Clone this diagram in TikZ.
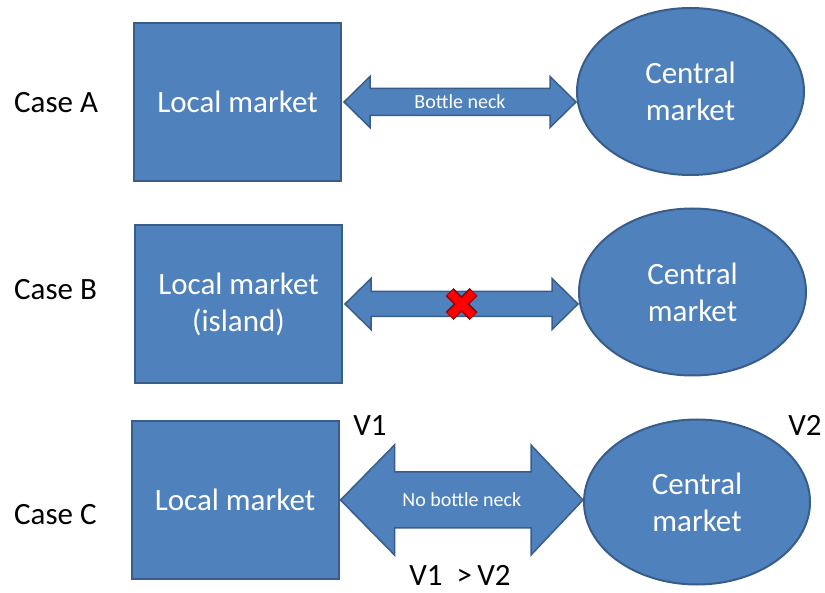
\documentclass[tikz,border=0pt]{standalone}
\usepackage{fontspec}
\setmainfont{Carlito}
\usetikzlibrary{calc,positioning,shapes.geometric}
\definecolor{officeblue}{HTML}{4F81BD}
\definecolor{officeline}{HTML}{385D8A}
\tikzstyle{market}=[rectangle,draw=officeline,fill=officeblue,line width=2pt,text=white,font=\fontsize{31}{37}\selectfont,align=center,minimum width=207pt,minimum height=158pt,inner sep=0pt]
\tikzstyle{central}=[market,ellipse,minimum width=227pt,minimum height=167pt]
\tikzstyle{pipe}=[draw=officeline,fill=officeblue,line width=1.5pt,line join=miter]
\tikzstyle{pipe label}=[text=white,font=\fontsize{20}{24}\selectfont,inner sep=0pt]
\tikzstyle{case}=[anchor=west,font=\fontsize{31}{37}\selectfont,inner sep=0pt]
\tikzstyle{value}=[font=\fontsize{31}{37}\selectfont,inner sep=0pt]

\begin{document}
\begin{tikzpicture}[x=1pt,y=1pt]
  \useasboundingbox (0,0) rectangle (825,592);

  % Case A

  \node[market] (locA) at (237.5,490) {Local market};
  \node[central] (cenA) at (690.5,500.5) {Central\\market};
  \node[case] (caseA) at (14,489) {Case A};

  \coordinate (tailA) at ($(locA.east)+(2,0)$);
  \coordinate (tipA) at (cenA.west |- locA.east);
  \draw[pipe] (tailA) -- ++(26,25.5) -- ++(0,-12) -- ($(tipA)+(-26,13.5)$) -- ++(0,12)
  -- (tipA) -- ++(-26,-25.5) -- ++(0,12) -- ($(tailA)+(26,-13.5)$) -- ++(0,-12) -- cycle;
  \node[pipe label] (neckA) at ($(tailA)!.5!(tipA)$) {Bottle neck};

  % Case B

  \node[market] (locB) at (238.5,288) {Local market\\(island)};
  \node[central] (cenB) at (692.5,300) {Central\\market};
  \node[case] (caseB) at (14,302) {Case B};

  \coordinate (tailB) at ($(locB.east)+(2,0)$);
  \coordinate (tipB) at (cenB.west |- locB.east);
  \draw[pipe] (tailB) -- ++(26,25.5) -- ++(0,-13) -- ($(tipB)+(-26,12.5)$) -- ++(0,13)
  -- (tipB) -- ++(-26,-25.5) -- ++(0,13) -- ($(tailB)+(26,-12.5)$) -- ++(0,-13) -- cycle;

  \coordinate (cut) at ($(tailB)!.5!(tipB)$);
  \draw[line width=11pt,draw=red!55!black]
  ($(cut)+(-12,12)$) -- ($(cut)+(12,-12)$)
  ($(cut)+(-12,-12)$) -- ($(cut)+(12,12)$);
  \draw[line width=8pt,red]
  ($(cut)+(-11.5,11.5)$) -- ($(cut)+(11.5,-11.5)$)
  ($(cut)+(-11.5,-11.5)$) -- ($(cut)+(11.5,11.5)$);

  % Case C

  \node[market] (locC) at (235,92) {Local market};
  \node[central, minimum width=226pt, minimum height=165pt] (cenC) at (697,90) {Central\\market};
  \node[case] (caseC) at (14,77) {Case C};

  \coordinate (tailC) at ($(locC.east)+(1,0)$);
  \coordinate (tipC) at (cenC.west |- locC.east);
  \draw[pipe] (tailC) -- ++(54,55) -- ++(0,-27) -- ($(tipC)+(-52,28)$) -- ++(0,27)
  -- (tipC) -- ++(-52,-55) -- ++(0,27) -- ($(tailC)+(54,-28)$) -- ++(0,-27) -- cycle;
  \node[pipe label] (neckC) at ($(tailC)!.5!(tipC)$) {No bottle neck};

  % Values

  \node[value] (v1) at (370,166) {V1};
  \node[value] (v2) at (805,167) {V2};
  \node[value] (v1v2) at (460,17) {V1\ \ >\,V2};
\end{tikzpicture}
\end{document}
